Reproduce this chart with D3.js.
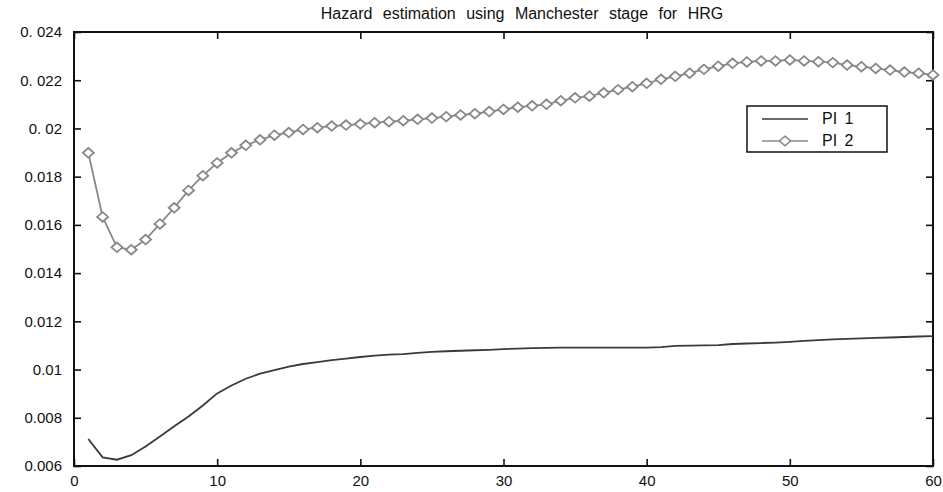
<!DOCTYPE html>
<meta charset="utf-8">
<head>
<script src="https://d3js.org/d3.v7.min.js"></script>
<style>
  body { margin: 0; background: #fff; }
  text { font-family: "Liberation Sans", Arial, sans-serif; fill: #111; }
</style>
</head>
<body>
<svg id="chart" width="943" height="492"></svg>
<script>

var months = d3.range(1, 61);

var pi1 = [0.00712, 0.00636, 0.00626, 0.00645, 0.00681, 0.00722, 0.00765, 0.00805, 0.00851, 0.00901,
           0.00934, 0.00962, 0.00983, 0.00998, 0.01012, 0.01023, 0.01031, 0.01039, 0.01045, 0.01052,
           0.01058, 0.01062, 0.01064, 0.01069, 0.01073, 0.01076, 0.01078, 0.01080, 0.01082, 0.01085,
           0.01087, 0.01089, 0.01090, 0.01091, 0.01091, 0.01091, 0.01091, 0.01091, 0.01091, 0.01091,
           0.01093, 0.01098, 0.01099, 0.01100, 0.01101, 0.01106, 0.01108, 0.01110, 0.01112, 0.01115,
           0.01119, 0.01122, 0.01125, 0.01127, 0.01129, 0.01131, 0.01133, 0.01135, 0.01137, 0.01139];

var pi2 = [0.01899, 0.01633, 0.01507, 0.01497, 0.01539, 0.01604, 0.01671, 0.01743, 0.01804, 0.01857,
           0.01899, 0.01930, 0.01953, 0.01972, 0.01983, 0.01996, 0.02003, 0.02010, 0.02014, 0.02018,
           0.02024, 0.02028, 0.02032, 0.02038, 0.02043, 0.02049, 0.02056, 0.02061, 0.02070, 0.02079,
           0.02088, 0.02094, 0.02100, 0.02115, 0.02127, 0.02134, 0.02148, 0.02161, 0.02173, 0.02187,
           0.02204, 0.02216, 0.02229, 0.02245, 0.02258, 0.02270, 0.02276, 0.02280, 0.02280, 0.02284,
           0.02280, 0.02277, 0.02273, 0.02263, 0.02256, 0.02249, 0.02242, 0.02234, 0.02229, 0.02222];

var xTicks = [0, 10, 20, 30, 40, 50, 60];
var yTicks = [0.006, 0.008, 0.01, 0.012, 0.014, 0.016, 0.018, 0.02, 0.022, 0.024];
var yLabels = ["0.006", "0.008", "0.01", "0.012", "0.014", "0.016", "0.018", "0. 02", "0. 022", "0. 024"];
var seriesNames = ["PI 1", "PI 2"];

var svg = d3.select("#chart");

// plot box (don't call it "top": window.top is read-only)
var pL = 74, pR = 933, pT = 32, pB = 466;

var x = d3.scaleLinear().domain([0, 60]).range([pL, pR]);
var y = d3.scaleLinear().domain([0.006, 0.024]).range([pB, pT]);

// title
svg.append("text")
  .attr("x", 522).attr("y", 19)
  .attr("text-anchor", "middle")
  .style("font-size", "16px")
  .style("word-spacing", "6px")
  .text("Hazard estimation using Manchester stage for HRG");

// axes with inward ticks on all sides
var tl = 7;
svg.append("g").attr("transform", "translate(0," + pB + ")")
  .call(d3.axisBottom(x).tickValues(xTicks).tickSize(-tl).tickPadding(9).tickFormat(d3.format("d")));
svg.append("g").attr("transform", "translate(0," + pT + ")")
  .call(d3.axisTop(x).tickValues(xTicks).tickSize(-tl).tickFormat(""));
svg.append("g").attr("transform", "translate(" + pL + ",0)")
  .call(d3.axisLeft(y).tickValues(yTicks).tickSize(-tl).tickPadding(12)
    .tickFormat(function(d, i) { return yLabels[i]; }));
svg.append("g").attr("transform", "translate(" + pR + ",0)")
  .call(d3.axisRight(y).tickValues(yTicks).tickSize(-tl).tickFormat(""));

svg.selectAll(".domain").remove();
svg.selectAll(".tick line").attr("stroke", "#111").attr("stroke-width", 1.6);
svg.selectAll(".tick text").style("font-family", "'Liberation Sans', Arial, sans-serif")
  .style("font-size", "15px").attr("fill", "#111");

// frame
svg.append("rect")
  .attr("x", pL).attr("y", pT)
  .attr("width", pR - pL).attr("height", pB - pT)
  .attr("fill", "none").attr("stroke", "#111").attr("stroke-width", 2);

var line = d3.line()
  .x(function(d, i) { return x(months[i]); })
  .y(function(d) { return y(d); });

// PI 1
svg.append("path").datum(pi1)
  .attr("d", line)
  .attr("fill", "none").attr("stroke", "#3a3a3a").attr("stroke-width", 1.8);

// PI 2
svg.append("path").datum(pi2)
  .attr("d", line)
  .attr("fill", "none").attr("stroke", "#888").attr("stroke-width", 1.8);

var diamond = "M0,-4.8L5.5,0L0,4.8L-5.5,0Z";
svg.append("g").selectAll("path")
  .data(pi2)
  .enter().append("path")
  .attr("d", diamond)
  .attr("transform", function(d, i) { return "translate(" + x(months[i]) + "," + y(d) + ")"; })
  .attr("fill", "#fff").attr("stroke", "#888").attr("stroke-width", 1.8);

// legend
var lg = svg.append("g");
lg.append("rect")
  .attr("x", 747).attr("y", 106).attr("width", 140).attr("height", 46)
  .attr("fill", "#fff").attr("stroke", "#111").attr("stroke-width", 1.5);

seriesNames.forEach(function(name, i) {
  var ly = 119 + i * 22;
  lg.append("line")
    .attr("x1", 762).attr("x2", 808).attr("y1", ly).attr("y2", ly)
    .attr("stroke", i == 0 ? "#3a3a3a" : "#888").attr("stroke-width", 1.6);
  if (i == 1) {
    lg.append("path").attr("d", diamond)
      .attr("transform", "translate(785," + ly + ")")
      .attr("fill", "#fff").attr("stroke", "#888").attr("stroke-width", 1.6);
  }
  lg.append("text")
    .attr("x", 822).attr("y", ly + 5)
    .style("font-size", "16px")
    .style("word-spacing", "3px")
    .text(name);
});

</script>
</body>
